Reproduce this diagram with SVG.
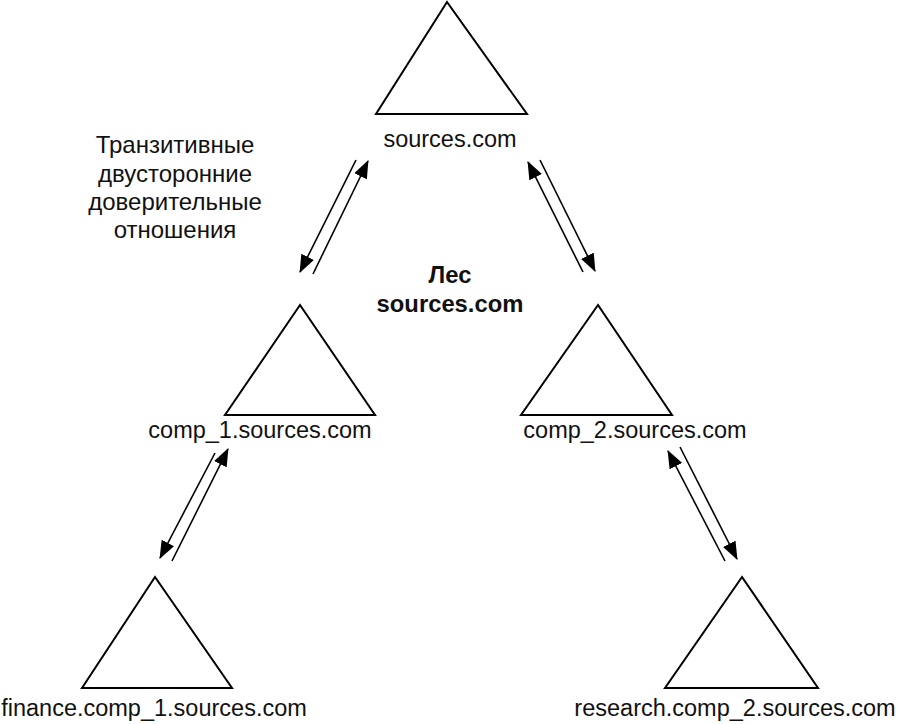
<svg xmlns="http://www.w3.org/2000/svg" width="902" height="724" viewBox="0 0 902 724">
<defs>
<style>
.tri{fill:#fff;stroke:#000;stroke-width:2;stroke-linejoin:miter}
.lbl{font-family:"Liberation Sans",Arial,sans-serif;font-size:23.5px;fill:#111;text-anchor:middle}
.note{font-family:"Liberation Sans",Arial,sans-serif;font-size:24px;fill:#111;text-anchor:middle}
.bold{font-family:"Liberation Sans",Arial,sans-serif;font-size:23.8px;font-weight:bold;fill:#111;text-anchor:middle}
.ln{stroke:#000;stroke-width:1.6;fill:none;marker-end:url(#ah)}
</style>
<marker id="ah" markerUnits="userSpaceOnUse" markerWidth="18" markerHeight="14" viewBox="0 0 18 14" refX="17" refY="7" orient="auto">
<path d="M0,0 L18,7 L0,14 z" fill="#000"/>
</marker>
</defs>
<rect width="902" height="724" fill="#fff"/>
<g id="node-sources">
<polygon class="tri" points="447,2 376,114 527,114"/>
<text class="lbl" x="450" y="147">sources.com</text>
</g>
<g id="node-comp1">
<polygon class="tri" points="300,305 225,415 375,415"/>
<text class="lbl" x="260" y="438">comp_1.sources.com</text>
</g>
<g id="node-comp2">
<polygon class="tri" points="598,305 521,415 672,415"/>
<text class="lbl" x="635" y="438">comp_2.sources.com</text>
</g>
<g id="node-finance">
<polygon class="tri" points="155,577 82,688 232,688"/>
<text class="lbl" x="154" y="716">finance.comp_1.sources.com</text>
</g>
<g id="node-research">
<polygon class="tri" points="742,577 665,688 818,688"/>
<text class="lbl" x="735" y="716">research.comp_2.sources.com</text>
</g>
<g id="note-trust">
<text class="note" x="175" y="153">Транзитивные</text>
<text class="note" x="175" y="182">двусторонние</text>
<text class="note" x="175" y="210">доверительные</text>
<text class="note" x="175" y="238">отношения</text>
</g>
<g id="note-forest">
<text class="bold" x="450" y="283">Лес</text>
<text class="bold" x="450" y="312">sources.com</text>
</g>
<g id="connectors">
<line class="ln" x1="356" y1="160" x2="300" y2="272"/>
<line class="ln" x1="313" y1="274" x2="368" y2="161"/>
<line class="ln" x1="583" y1="272" x2="528" y2="162"/>
<line class="ln" x1="540" y1="160" x2="595" y2="271"/>
<line class="ln" x1="215" y1="453" x2="160" y2="558"/>
<line class="ln" x1="172" y1="561" x2="228" y2="449"/>
<line class="ln" x1="725" y1="561" x2="668" y2="451"/>
<line class="ln" x1="680" y1="447" x2="737" y2="559"/>
</g>
</svg>
